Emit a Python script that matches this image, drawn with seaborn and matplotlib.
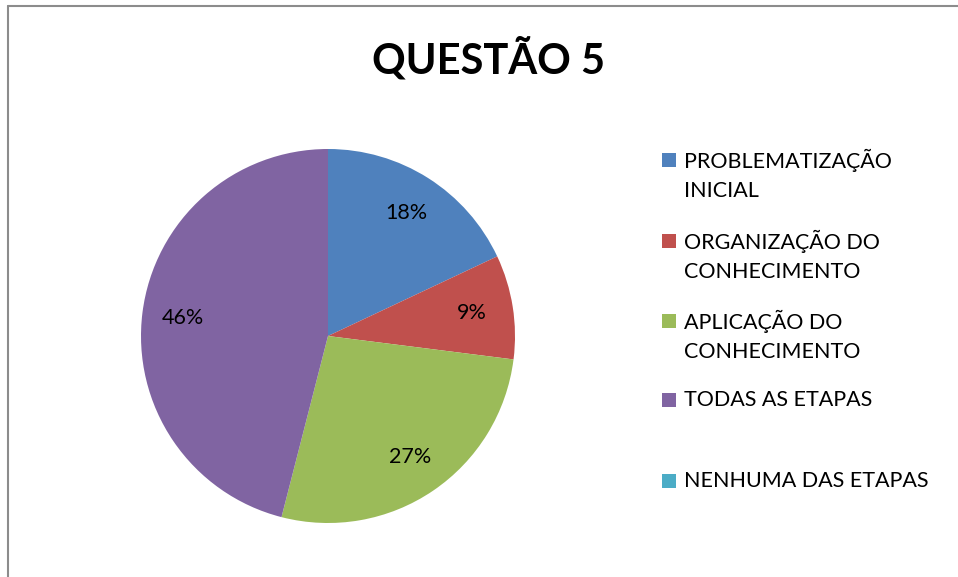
import matplotlib
matplotlib.use('Agg')
import matplotlib.pyplot as plt
import seaborn as sns
from matplotlib.lines import Line2D
from matplotlib.patches import Rectangle

categories = ['PROBLEMATIZAÇÃO\nINICIAL', 'ORGANIZAÇÃO DO\nCONHECIMENTO',
              'APLICAÇÃO DO\nCONHECIMENTO', 'TODAS AS ETAPAS', 'NENHUMA DAS ETAPAS']
percents = [18, 9, 27, 46, 0]
colors = ['#4F81BD', '#C0504D', '#9BBB59', '#8064A2', '#4BACC6']
title = 'QUESTÃO 5'

sns.set_theme(style='white')
plt.rcParams['font.family'] = ['Lato', 'DejaVu Sans']
plt.rcParams['text.color'] = 'black'

W, H = 958, 577
fig = plt.figure(figsize=(W / 100, H / 100), dpi=100)

# pie centre ~ (328, 336) px, radius ~187 px
cx, cy, r = 328, 336, 187
ax = fig.add_axes([(cx - r) / W, 1 - (cy + r) / H, 2 * r / W, 2 * r / H])


def pct_label(p):
    return '' if p == 0 else '%d%%' % round(p)


wedges, texts, autotexts = ax.pie(percents, colors=colors, startangle=90, counterclock=False,
                                  autopct=pct_label, pctdistance=0.78, radius=1,
                                  wedgeprops=dict(linewidth=0),
                                  textprops=dict(fontsize=15.5, color='black'))
ax.set_xlim(-1, 1)
ax.set_ylim(-1, 1)
ax.set_aspect('equal')
ax.axis('off')

fig.text(488 / W, 1 - 59 / H, title, ha='center', va='center', fontsize=30,
         fontweight='bold', color='black')

# legend drawn like Excel: equal slots, square aligned with first line
slot_top = [160, 241, 321, 400, 481]
for i, (lab, col) in enumerate(zip(categories, colors)):
    y = slot_top[i]
    fig.patches.append(Rectangle((662 / W, 1 - (y + 7) / H), 14 / W, 14 / H,
                                 transform=fig.transFigure, facecolor=col, edgecolor='none'))
    for k, line in enumerate(lab.split('\n')):
        fig.text(684 / W, 1 - (y + 31 * k) / H, line, ha='left', va='center',
                 fontsize=15.5, color='black')

# chart border (left and top visible)
fig.add_artist(Line2D([8 / W, 8 / W], [0, 1 - 6 / H], color='#8c8c8c', lw=1.5))
fig.add_artist(Line2D([8 / W, 1], [1 - 6 / H, 1 - 6 / H], color='#8c8c8c', lw=1.5))

fig.savefig('out.png', dpi=100)
